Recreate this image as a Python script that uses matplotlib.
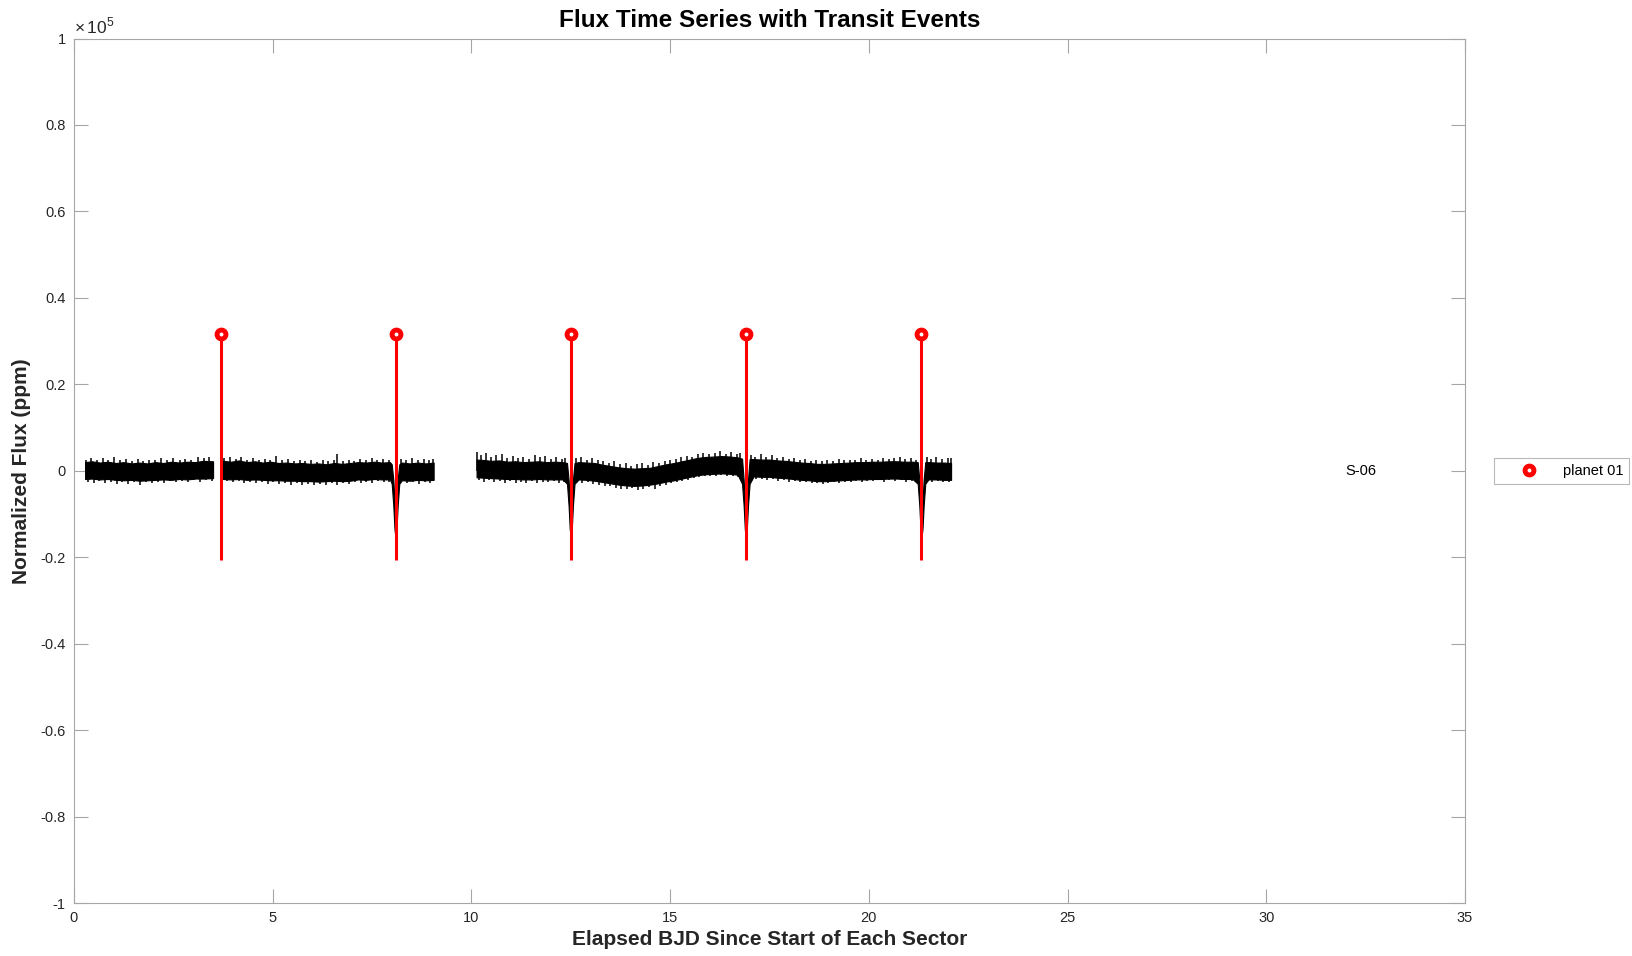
import numpy as np
import matplotlib.pyplot as plt

plt.rcParams['font.family'] = ['Liberation Sans', 'DejaVu Sans']
plt.rcParams['mathtext.fontset'] = 'custom'
plt.rcParams['mathtext.rm'] = 'Liberation Sans'

# flux band (upper / lower envelope, ppm) for each data segment of sector 6
t_seg1 = [0.28, 0.45, 0.65, 0.85, 1.05, 1.25, 1.45, 1.65, 1.85, 2.05, 2.25, 2.45,
          2.65, 2.85, 3.05, 3.25, 3.50]
hi_seg1 = [2000, 2200, 1900, 2100, 1800, 2000, 1700, 1900, 1700, 2000, 1800, 2100,
           1900, 2100, 2000, 2300, 2200]
lo_seg1 = [-1900, -1800, -2000, -1900, -2100, -2200, -2100, -2300, -2200, -2100, -2000, -2100,
           -1900, -2000, -1800, -1800, -1700]

t_seg2 = [3.75, 3.95, 4.15, 4.35, 4.55, 4.75, 4.95, 5.15, 5.35, 5.55, 5.75, 5.95,
          6.15, 6.35, 6.55, 6.75, 6.95, 7.15, 7.35, 7.55, 7.75, 7.95,
          7.995, 8.035, 8.065, 8.09, 8.115, 8.145, 8.185,
          8.25, 8.45, 8.65, 8.85, 9.05]
hi_seg2 = [2300, 2100, 2400, 2000, 2200, 1900, 2100, 1800, 1900, 1700, 1800, 1600,
           1700, 1500, 1800, 1600, 1800, 2000, 1900, 2100, 1900, 2000,
           1500, -2000, -7000, -10000, -7000, -2000, 1500,
           1900, 1700, 1900, 1700, 1900]
lo_seg2 = [-1900, -2000, -1900, -2100, -2000, -2100, -2200, -2200, -2300, -2300, -2400, -2400,
           -2500, -2400, -2300, -2400, -2300, -2000, -2100, -1900, -2000, -2000,
           -3000, -8000, -13500, -15500, -13500, -8000, -3000,
           -2200, -2300, -2100, -2200, -2100]

t_seg3 = [10.13, 10.30, 10.50, 10.70, 10.90, 11.10, 11.30, 11.50, 11.70, 11.90, 12.10, 12.30,
          12.405, 12.445, 12.475, 12.50, 12.525, 12.555, 12.595,
          12.70, 12.90, 13.10, 13.30, 13.50, 13.70, 13.90, 14.10, 14.30, 14.50, 14.70,
          14.90, 15.10, 15.30, 15.50, 15.70, 15.90, 16.10, 16.30, 16.50, 16.70,
          16.81, 16.85, 16.88, 16.905, 16.93, 16.96, 17.00,
          17.10, 17.30, 17.50, 17.70, 17.90, 18.10, 18.30, 18.50, 18.70, 18.90, 19.10,
          19.30, 19.50, 19.70, 19.90, 20.10, 20.30, 20.50, 20.70, 20.90, 21.10,
          21.23, 21.27, 21.30, 21.325, 21.35, 21.38, 21.42,
          21.50, 21.70, 21.90, 22.07]
hi_seg3 = [2600, 2500, 2300, 2400, 2100, 2200, 2000, 2100, 2200, 2000, 2100, 2000,
           1800, -2000, -7000, -10000, -7000, -2000, 1800,
           2000, 1900, 1800, 1400, 1100, 800, 600, 500, 600, 700, 1100,
           1500, 1800, 2200, 2600, 3000, 3200, 3300, 3400, 3300, 3100,
           2800, -2000, -7000, -10000, -7000, -2000, 2700,
           2700, 2600, 2600, 2400, 2300, 2100, 1900, 1800, 1600, 1600, 1700,
           1800, 1900, 2000, 2000, 2100, 2100, 2200, 2200, 2100, 2100,
           2000, -2000, -7000, -10000, -7000, -2000, 2000,
           2000, 1900, 1900, 1800]
lo_seg3 = [-1500, -1600, -1700, -1800, -1900, -1900, -2000, -2000, -1900, -2000, -2000, -2000,
           -3000, -8000, -13500, -15200, -13500, -8000, -3000,
           -2000, -2100, -2300, -2600, -2900, -3200, -3400, -3500, -3400, -3200, -2900,
           -2500, -2200, -1800, -1400, -1000, -800, -700, -600, -700, -900,
           -3000, -8000, -13500, -15500, -13500, -8000, -3000,
           -1300, -1400, -1400, -1600, -1700, -1900, -2100, -2200, -2400, -2400, -2300,
           -2200, -2100, -2000, -2000, -1900, -1900, -1800, -1800, -1900, -1900,
           -3000, -8000, -13500, -15300, -13500, -8000, -3000,
           -2000, -2000, -2100, -2100]

# single-cadence outliers sticking out of the band (ppm)
spike_up_t = [0.31, 0.44, 0.58, 0.73, 0.86, 1.01, 1.15, 1.30, 1.46, 1.61, 1.74, 1.90, 2.05, 2.19,
              2.35, 2.50, 2.66, 2.80, 2.95, 3.11, 3.26, 3.40,
              3.78, 3.92, 4.07, 4.21, 4.36, 4.50, 4.65, 4.80, 4.94, 5.09, 5.24, 5.38, 5.53, 5.68,
              5.82, 5.97, 6.11, 6.26, 6.40, 6.55, 6.61, 6.76, 6.91, 7.05, 7.20, 7.34, 7.49, 7.63,
              7.78, 7.92, 8.22, 8.36, 8.51, 8.65, 8.80, 8.94, 9.03,
              10.15, 10.24, 10.37, 10.50, 10.63, 10.76, 10.90, 11.04, 11.18, 11.31, 11.45, 11.59,
              11.72, 11.86, 12.00, 12.14, 12.28, 12.36, 12.64, 12.76, 12.90, 13.04, 13.18, 13.32,
              13.46, 13.60, 13.74, 13.88, 14.02, 14.16, 14.30, 14.44, 14.58, 14.72, 14.86, 15.00,
              15.14, 15.28, 15.42, 15.56, 15.70, 15.84, 15.98, 16.12, 16.26, 16.40, 16.54, 16.68,
              16.77, 17.04, 17.14, 17.28, 17.42, 17.56, 17.70, 17.84, 17.98, 18.12, 18.26, 18.40,
              18.54, 18.68, 18.82, 18.96, 19.10, 19.24, 19.38, 19.52, 19.66, 19.80, 19.94, 20.08,
              20.22, 20.36, 20.50, 20.64, 20.78, 20.92, 21.06, 21.18, 21.46, 21.56, 21.70, 21.84,
              21.98, 22.06]
spike_up = [2600, 3000, 2500, 2900, 2400, 3200, 2500, 2800, 2300, 2700, 2200, 2600, 2400, 2900,
            2500, 3000, 2600, 2800, 2500, 3100, 2900, 3300,
            2900, 3300, 2700, 3100, 2600, 3000, 2500, 2800, 2400, 3400, 2500, 2700, 2300, 2600,
            2200, 2500, 2100, 2600, 2200, 2400, 3800, 2300, 2600, 2300, 2800, 2400, 2900, 2500,
            2700, 2400, 2800, 2500, 2900, 2400, 2700, 2500, 2800,
            4300, 3700, 4000, 3200, 3600, 3900, 3000, 3400, 2900, 3300, 2800, 3700,
            3100, 3400, 2800, 3200, 2700, 3000, 2900, 3300, 2600, 3000, 2400, 2200,
            1900, 2300, 1500, 1700, 1200, 1500, 1900, 1300, 2000, 1800, 2300, 2500,
            2800, 3100, 3500, 3300, 3900, 4200, 3800, 4100, 4600, 3900, 4400, 3800,
            4000, 3600, 3200, 3800, 3300, 3700, 2900, 3200, 2700, 3000, 2500, 2800,
            2300, 2600, 2200, 2500, 2200, 2700, 2400, 2600, 2500, 2900, 2500, 2800,
            2600, 3000, 2700, 2900, 3200, 2700, 2900, 2600, 3300, 2800, 3100, 2700,
            3000, 2900]
spike_dn_t = [0.36, 0.50, 0.64, 0.79, 0.93, 1.08, 1.22, 1.37, 1.52, 1.67, 1.82, 1.97, 2.12, 2.27,
              2.42, 2.57, 2.72, 2.88, 3.03, 3.18, 3.33, 3.47,
              3.84, 3.99, 4.14, 4.28, 4.43, 4.58, 4.72, 4.87, 5.02, 5.16, 5.31, 5.45, 5.60, 5.75,
              5.89, 6.04, 6.18, 6.33, 6.48, 6.62, 6.77, 6.92, 7.06, 7.21, 7.36, 7.50, 7.65, 7.80,
              7.92, 8.24, 8.39, 8.54, 8.68, 8.83, 8.97,
              10.19, 10.32, 10.45, 10.58, 10.71, 10.84, 10.97, 11.11, 11.25, 11.38, 11.52, 11.66,
              11.79, 11.93, 12.07, 12.21, 12.33, 12.65, 12.79, 12.93, 13.07, 13.21, 13.35, 13.49,
              13.63, 13.77, 13.91, 14.05, 14.19, 14.33, 14.47, 14.61, 14.75, 14.89, 15.03, 15.17,
              15.31, 15.45, 15.59, 15.73, 15.87, 16.01, 16.15, 16.29, 16.43, 16.57, 16.71, 17.05,
              17.16, 17.30, 17.44, 17.58, 17.72, 17.86, 18.00, 18.14, 18.28, 18.42, 18.56, 18.70,
              18.84, 18.98, 19.12, 19.26, 19.40, 19.54, 19.68, 19.82, 19.96, 20.10, 20.24, 20.38,
              20.52, 20.66, 20.80, 20.94, 21.08, 21.18, 21.48, 21.59, 21.73, 21.87, 22.01]
spike_dn = [-2500, -2800, -2400, -2900, -2600, -3000, -2700, -3100, -2600, -3200, -2700, -2900,
            -2500, -2800, -2400, -2700, -2300, -2600, -2200, -2500, -2200, -2400,
            -2400, -2700, -2300, -2800, -2500, -2900, -2600, -3000, -2700, -3100, -2800, -3200,
            -2900, -3300, -3000, -3400, -3000, -3300, -2900, -3200, -2800, -3100, -2700, -2900,
            -2500, -2800, -2400, -2700, -2500, -2600, -2900, -2700, -3000, -2600, -2800,
            -2100, -2500, -2200, -2700, -2300, -2800, -2400, -2900, -2500, -2800, -2400, -2900,
            -2500, -2700, -2400, -2800, -2500, -2600, -2900, -2700, -3100, -3300, -3600, -3500,
            -3900, -4100, -4300, -4000, -4400, -4100, -3800, -4200, -3500, -3300, -2900, -2700,
            -2300, -2100, -1700, -1500, -1300, -1200, -1300, -1000, -1200, -1100, -1400, -1800,
            -2000, -1800, -2100, -1900, -2300, -2100, -2500, -2300, -2700, -2500, -2900, -2800,
            -3100, -2900, -2700, -2800, -2500, -2600, -2400, -2500, -2300, -2400, -2200, -2500,
            -2200, -2400, -2100, -2500, -2300, -2500, -2300, -2700, -2400, -2600, -2500]

# transit events of planet 01
transit_t = [3.69, 8.095, 12.50, 16.905, 21.325]
stem_top = [31600, 31600, 31600, 31600, 31600]
stem_bottom = [-20650, -20650, -20650, -20650, -20650]

sector_label = 'S-06'
sector_label_x = 32.37

xticks = [0, 5, 10, 15, 20, 25, 30, 35]
yticks = [-1.0, -0.8, -0.6, -0.4, -0.2, 0.0, 0.2, 0.4, 0.6, 0.8, 1.0]
ytick_labels = ['-1', '-0.8', '-0.6', '-0.4', '-0.2', '0', '0.2', '0.4', '0.6', '0.8', '1']

fig = plt.figure(figsize=(16.33, 9.56), dpi=100)
ax = fig.add_axes([0.0453, 0.0554, 0.8518, 0.9043])

for t, lo, hi in [(t_seg1, lo_seg1, hi_seg1), (t_seg2, lo_seg2, hi_seg2), (t_seg3, lo_seg3, hi_seg3)]:
    ax.fill_between(t, lo, hi, facecolor='black', edgecolor='black', linewidth=0.8, zorder=2)
ax.vlines(spike_up_t, 0, spike_up, colors='black', linewidth=1.1, zorder=2)
ax.vlines(spike_dn_t, 0, spike_dn, colors='black', linewidth=1.1, zorder=2)

ax.vlines(transit_t, stem_bottom, stem_top, colors='red', linewidth=2.2, zorder=3)
ax.plot(transit_t, stem_top, 'o', color='red', markerfacecolor='white',
        markersize=6.4, markeredgewidth=3.5, label='planet 01', zorder=4)

ax.text(sector_label_x, 0, sector_label, ha='center', va='center', fontsize=10.5, color='black')

ax.set_xlim(0, 35)
ax.set_ylim(-1e5, 1e5)
ax.set_xticks(xticks)
ax.set_yticks([v * 1e5 for v in yticks])
ax.set_yticklabels(ytick_labels)
ax.tick_params(direction='in', length=10, width=0.8, color='#a6a6a6', top=True, right=True,
               labelsize=10.5, labelcolor='#262626', pad=6)
for s in ax.spines.values():
    s.set_color('#a6a6a6')
    s.set_linewidth(0.8)

ax.text(0.0, 1.003, r'$\times\,10^{5}$', transform=ax.transAxes, ha='left', va='bottom',
        fontsize=12.5, color='#262626')

ax.set_title('Flux Time Series with Transit Events', fontsize=17.5, fontweight='bold', pad=8)
ax.set_xlabel('Elapsed BJD Since Start of Each Sector', fontsize=15, fontweight='bold',
              color='#262626', labelpad=3)
ax.set_ylabel('Normalized Flux (ppm)', fontsize=15, fontweight='bold', color='#262626', labelpad=7)

leg = ax.legend(loc='center left', bbox_to_anchor=(1.021, 0.5), fontsize=10.5, frameon=True,
                fancybox=False, handlelength=4.0, handletextpad=0.3, borderpad=0.4,
                borderaxespad=0.0)
leg.get_frame().set_edgecolor('#a6a6a6')
leg.get_frame().set_linewidth(0.8)

fig.savefig('out.png', dpi=100)
